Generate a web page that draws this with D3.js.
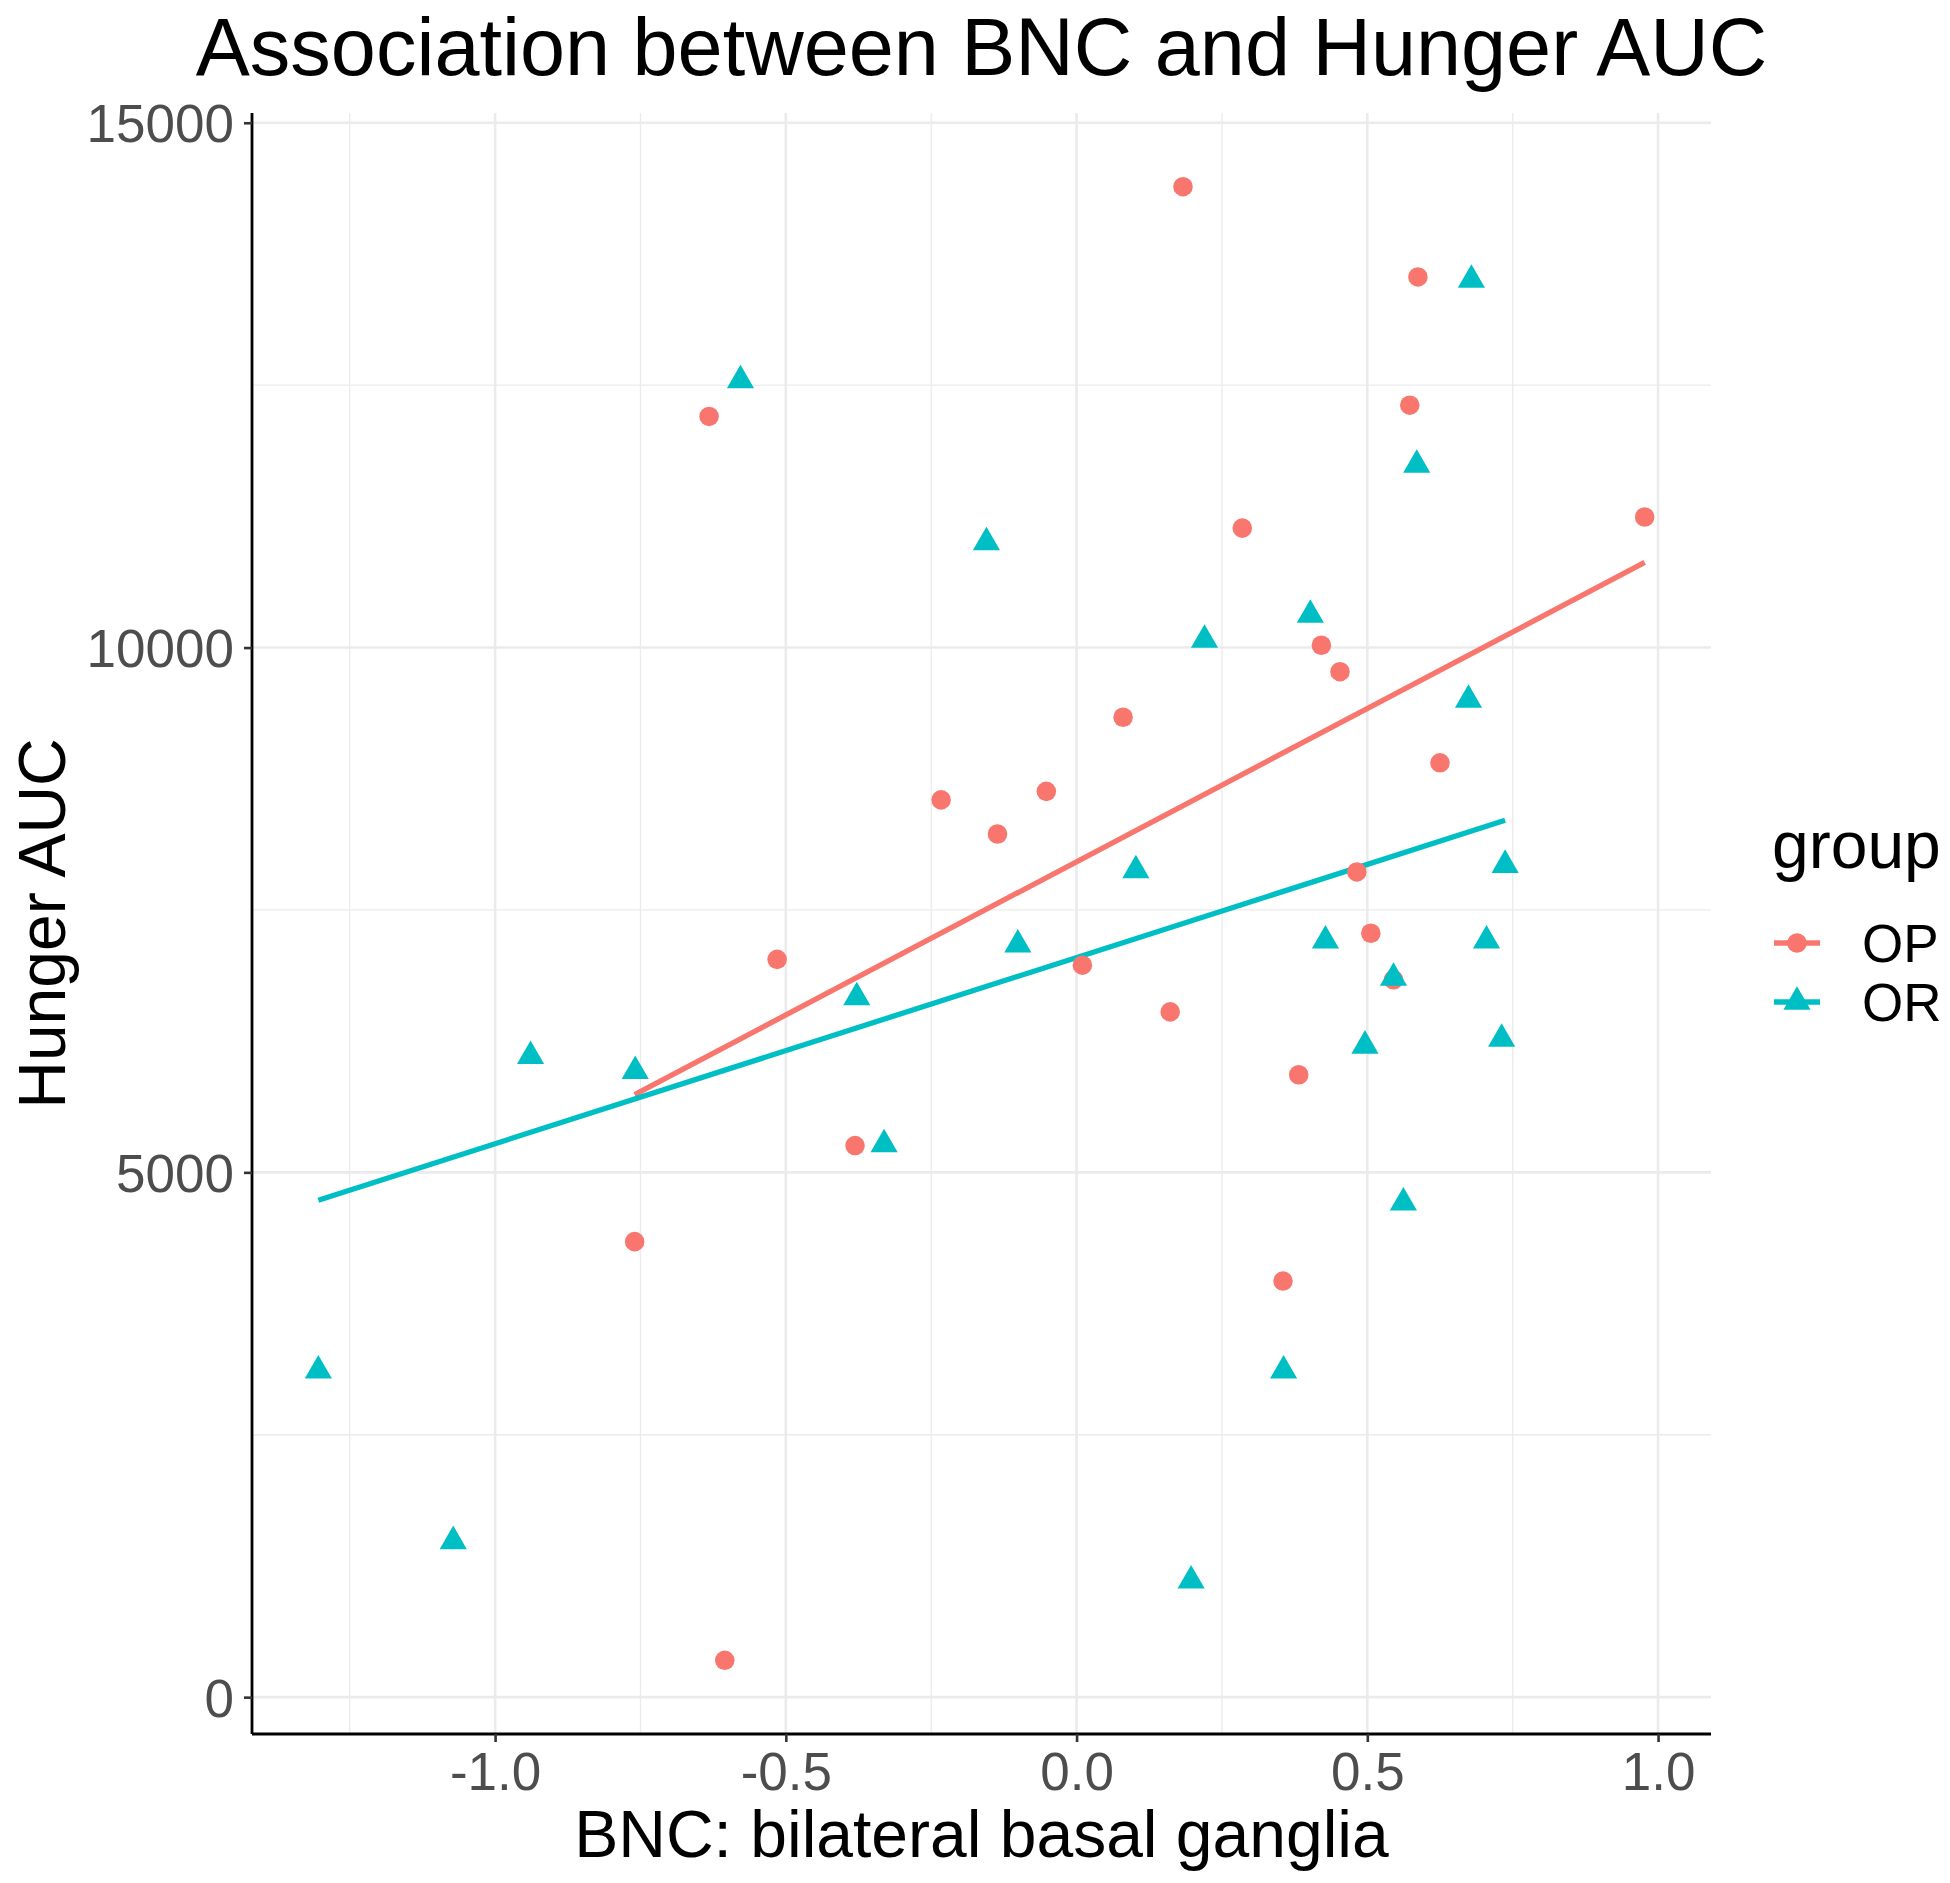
<!DOCTYPE html>
<html>
<head>
<meta charset="utf-8">
<script src="https://cdn.jsdelivr.net/npm/d3@7"></script>
<style>
  body { margin: 0; background: #fff; }
  text { font-family: "Liberation Sans", Arial, sans-serif; }
</style>
</head>
<body>
<div id="area"></div>
<script>
// data
const op_bnc = [0.183, 0.587, -0.632, 0.573, 0.285, 0.977, 0.421, 0.453, 0.080, 0.625, -0.233, -0.052,
  -0.136, 0.482, -0.515, 0.506, 0.010, 0.161, 0.382, -0.381, -0.760, 0.355, -0.605, 0.545]
const op_auc = [14391, 13531, 12202, 12309, 11138, 11244, 10022, 9770, 9336, 8902, 8549, 8630,
  8224, 7862, 7029, 7278, 6974, 6529, 5930, 5255, 4340, 3964, 351, 6835]

const or_bnc = [-0.578, 0.679, 0.585, -0.155, 0.402, 0.220, 0.674, 0.102, 0.737, -0.101, 0.428, 0.705,
  -0.378, 0.545, 0.496, 0.731, -0.939, -0.759, -0.331, 0.562, -1.304, 0.356, -1.072, 0.197]
const or_auc = [12545, 13503, 11741, 11001, 10310, 10073, 9502, 7877, 7928, 7169, 7207, 7207,
  6667, 6852, 6206, 6272, 6107, 5965, 5267, 4711, 3110, 3110, 1485, 1109]

// lm fit lines (ends of each group's range)
const op_fit_bnc = [-0.760, 0.977]
const op_fit_auc = [5741, 10811]
const or_fit_bnc = [-1.304, 0.737]
const or_fit_auc = [4734, 8354]

const groups = ["OP", "OR"]
const x_ticks = [-1.0, -0.5, 0.0, 0.5, 1.0]
const x_minor = [-1.25, -0.75, -0.25, 0.25, 0.75]
const y_ticks = [0, 5000, 10000, 15000]
const y_minor = [2500, 7500, 12500]

const colors = {"OP": "#F8766D", "OR": "#00BFC4"}

const W = 1950, H = 1883
const panel = {left: 252, right: 1711, top: 113, bottom: 1734}

const svg = d3.select("#area")
  .append("svg")
  .attr("width", W)
  .attr("height", H)
  .style("background-color", "white")

// ggplot style 5% expansion
const all_x = op_bnc.concat(or_bnc)
const all_y = op_auc.concat(or_auc)
const xr = d3.extent(all_x), yr = d3.extent(all_y)
const xpad = (xr[1] - xr[0]) * 0.05, ypad = (yr[1] - yr[0]) * 0.05

const x = d3.scaleLinear()
  .domain([xr[0] - xpad, xr[1] + xpad])
  .range([panel.left, panel.right])
const y = d3.scaleLinear()
  .domain([yr[0] - ypad, yr[1] + ypad])
  .range([panel.bottom, panel.top])

// grid
const grid = svg.append("g").attr("id", "grid")
grid.selectAll(".vminor").data(x_minor).join("line")
  .attr("x1", d => x(d)).attr("x2", d => x(d))
  .attr("y1", panel.top).attr("y2", panel.bottom)
  .attr("stroke", "#EBEBEB").attr("stroke-width", 1.3)
grid.selectAll(".hminor").data(y_minor).join("line")
  .attr("y1", d => y(d)).attr("y2", d => y(d))
  .attr("x1", panel.left).attr("x2", panel.right)
  .attr("stroke", "#EBEBEB").attr("stroke-width", 1.3)
grid.selectAll(".vmajor").data(x_ticks).join("line")
  .attr("x1", d => x(d)).attr("x2", d => x(d))
  .attr("y1", panel.top).attr("y2", panel.bottom)
  .attr("stroke", "#EBEBEB").attr("stroke-width", 2.6)
grid.selectAll(".hmajor").data(y_ticks).join("line")
  .attr("y1", d => y(d)).attr("y2", d => y(d))
  .attr("x1", panel.left).attr("x2", panel.right)
  .attr("stroke", "#EBEBEB").attr("stroke-width", 2.6)

// fit lines
const line = d3.line().x(d => x(d[0])).y(d => y(d[1]))
const fits = [
  {g: "OP", pts: d3.zip(op_fit_bnc, op_fit_auc)},
  {g: "OR", pts: d3.zip(or_fit_bnc, or_fit_auc)}
]
svg.append("g").selectAll("path")
  .data(fits)
  .join("path")
  .attr("d", d => line(d.pts))
  .attr("fill", "none")
  .attr("stroke", d => colors[d.g])
  .attr("stroke-width", 5.3)

// points
const circle = d3.symbol().type(d3.symbolCircle).size(300)
const tri = d3.symbol().type(d3.symbolTriangle).size(320)

const pts = d3.zip(op_bnc, op_auc).map(d => ({g: "OP", x: d[0], y: d[1]}))
  .concat(d3.zip(or_bnc, or_auc).map(d => ({g: "OR", x: d[0], y: d[1]})))

svg.append("g").selectAll("path")
  .data(pts)
  .join("path")
  .attr("d", d => d.g == "OP" ? circle() : tri())
  .attr("transform", d => "translate(" + x(d.x) + "," + y(d.y) + ")")
  .attr("fill", d => colors[d.g])

// axes
const xAxis = svg.append("g")
  .attr("transform", "translate(0," + panel.bottom + ")")
  .call(d3.axisBottom(x).tickValues(x_ticks).tickFormat(d => d.toFixed(1)).tickSize(8).tickPadding(10))
const yAxis = svg.append("g")
  .attr("transform", "translate(" + panel.left + ",0)")
  .call(d3.axisLeft(y).tickValues(y_ticks).tickFormat(d => d).tickSize(8).tickPadding(10))

xAxis.select(".domain").attr("d", "M" + panel.left + ",0H" + panel.right)
yAxis.select(".domain").attr("d", "M0," + panel.top + "V" + panel.bottom)
svg.selectAll(".domain").attr("stroke", "black").attr("stroke-width", 2.8)
svg.selectAll(".tick line").attr("stroke", "#333333").attr("stroke-width", 2.6)
svg.selectAll(".tick text")
  .attr("fill", "#4D4D4D")
  .style("font-size", "53px")
  .style("font-family", "'Liberation Sans', Arial, sans-serif")
yAxis.selectAll(".tick text").attr("dy", "0.36em")
xAxis.selectAll(".tick text").attr("dy", "0.72em")

// titles
svg.append("text")
  .attr("x", (panel.left + panel.right) / 2)
  .attr("y", 75)
  .attr("text-anchor", "middle")
  .style("font-size", "81px")
  .text("Association between BNC and Hunger AUC")

svg.append("text")
  .attr("x", (panel.left + panel.right) / 2)
  .attr("y", 1857)
  .attr("text-anchor", "middle")
  .style("font-size", "66px")
  .text("BNC: bilateral basal ganglia")

svg.append("text")
  .attr("transform", "translate(65," + ((panel.top + panel.bottom) / 2) + ") rotate(-90)")
  .attr("text-anchor", "middle")
  .style("font-size", "66px")
  .text("Hunger AUC")

// legend
const legend = svg.append("g").attr("id", "legend")
legend.append("text")
  .attr("x", 1772)
  .attr("y", 868)
  .style("font-size", "66px")
  .text("group")

const item = legend.selectAll(".item")
  .data(groups)
  .join("g")
  .attr("transform", (d, i) => "translate(1797," + (943 + i * 59) + ")")
item.append("line")
  .attr("x1", -23).attr("x2", 23)
  .attr("stroke", d => colors[d])
  .attr("stroke-width", 5.3)
item.append("path")
  .attr("d", d => d == "OP" ? circle() : tri())
  .attr("fill", d => colors[d])
item.append("text")
  .attr("x", 65)
  .attr("dy", "0.36em")
  .style("font-size", "53px")
  .text(d => d)
</script>
</body>
</html>
